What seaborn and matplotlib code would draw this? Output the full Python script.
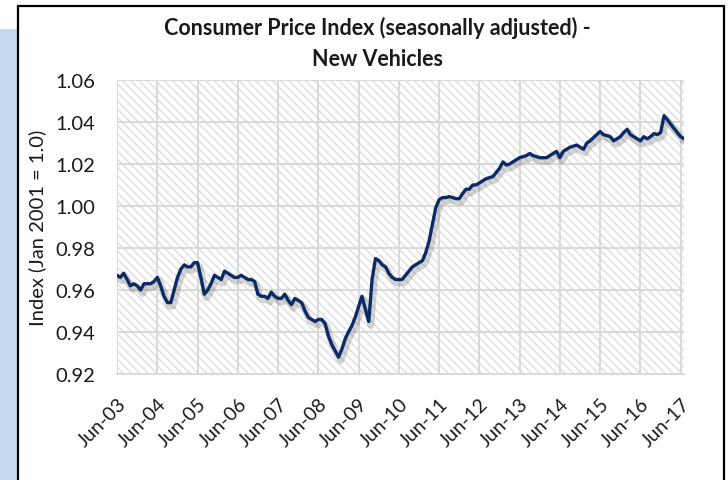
import numpy as np
import pandas as pd
import seaborn as sns
import matplotlib.pyplot as plt
import matplotlib.dates as mdates
import matplotlib.patheffects as pe
from matplotlib.patches import Rectangle

# Monthly CPI new vehicles, Jun-2003 .. Jul-2017 (index Jan 2001 = 1.0)
months = pd.date_range('2003-06-01', '2017-07-01', freq='MS')
cpi_new_vehicles = [
    0.967, 0.966, 0.968, 0.965, 0.962, 0.963, 0.962, 0.960, 0.963, 0.963, 0.963, 0.964,
    0.966, 0.962, 0.957, 0.954, 0.954, 0.960, 0.966, 0.970, 0.972, 0.971, 0.971, 0.973,
    0.973, 0.966, 0.958, 0.960, 0.963, 0.967, 0.966, 0.965, 0.969, 0.968, 0.967, 0.966,
    0.966, 0.967, 0.966, 0.965, 0.965, 0.964, 0.958, 0.957, 0.957, 0.956, 0.959, 0.957,
    0.956, 0.956, 0.958, 0.955, 0.953, 0.956, 0.955, 0.954, 0.950, 0.947, 0.946, 0.945,
    0.946, 0.946, 0.944, 0.938, 0.934, 0.931, 0.928, 0.932, 0.937, 0.940, 0.943, 0.947,
    0.952, 0.957, 0.951, 0.945, 0.965, 0.975, 0.974, 0.972, 0.971, 0.968, 0.966, 0.965,
    0.965, 0.965, 0.967, 0.969, 0.971, 0.972, 0.973, 0.974, 0.978, 0.983, 0.991, 0.999,
    1.003, 1.004, 1.004, 1.0045, 1.004, 1.0035, 1.0035, 1.006, 1.008, 1.008, 1.010, 1.010,
    1.011, 1.012, 1.013, 1.0135, 1.014, 1.016, 1.018, 1.021, 1.0195, 1.020, 1.021, 1.022,
    1.023, 1.0235, 1.024, 1.025, 1.024, 1.0235, 1.023, 1.023, 1.023, 1.024, 1.025, 1.026,
    1.023, 1.026, 1.027, 1.028, 1.0285, 1.029, 1.028, 1.027, 1.030, 1.031, 1.0325, 1.034,
    1.0355, 1.034, 1.0335, 1.033, 1.031, 1.032, 1.033, 1.035, 1.0365, 1.034, 1.033, 1.032,
    1.031, 1.033, 1.032, 1.033, 1.0345, 1.034, 1.035, 1.043, 1.041, 1.039, 1.037, 1.035,
    1.033, 1.032,
]
y_ticks = [0.92, 0.94, 0.96, 0.98, 1.00, 1.02, 1.04, 1.06]
x_ticks = pd.date_range('2003-06-01', '2017-06-01', freq='12MS')

df = pd.DataFrame({'month': months, 'cpi': cpi_new_vehicles})

sns.set_style('white')
plt.rcParams['font.family'] = ['Lato', 'DejaVu Sans']
plt.rcParams['hatch.color'] = '#dedede'
plt.rcParams['hatch.linewidth'] = 1.0

fig = plt.figure(figsize=(7.28, 4.81), dpi=100)

# blue side band and black frame of the original slide
fig.patches.append(Rectangle((0, 0), 18 / 728, 1 - 30 / 481, transform=fig.transFigure,
                             facecolor='#c5d7ea', edgecolor='none', zorder=0))
fig.patches.append(Rectangle((18 / 728, -0.05), 706 / 728, 1.05 - 7 / 481, transform=fig.transFigure,
                             facecolor='white', edgecolor='black', linewidth=1.6, zorder=1))

ax = fig.add_axes([117 / 728, 1 - 375 / 481, 567 / 728, 294 / 481])
ax.set_zorder(2)
ax.patch.set_facecolor('white')
ax.patch.set_hatch('\\\\\\\\')
ax.patch.set_edgecolor('#dedede')
ax.patch.set_linewidth(0)

sns.lineplot(data=df, x='month', y='cpi', ax=ax, color='#0c2a66', linewidth=2.4,
             path_effects=[pe.SimpleLineShadow(offset=(1.5, -2.5), shadow_color='#555555',
                                               alpha=0.25, linewidth=5),
                           pe.Normal()])

ax.set_xlim(pd.Timestamp('2003-06-01'), pd.Timestamp('2017-07-01'))
ax.set_ylim(0.92, 1.06)
ax.set_yticks(y_ticks)
ax.set_yticklabels([f'{v:.2f}' for v in y_ticks])
ax.set_xticks(x_ticks)
ax.xaxis.set_major_formatter(mdates.DateFormatter('%b-%y'))

ax.grid(True, color='#d9d9d9', linewidth=1.4)
ax.set_axisbelow(True)
for side in ['top', 'right', 'left']:
    ax.spines[side].set_visible(False)
ax.spines['bottom'].set_color('#d9d9d9')
ax.spines['bottom'].set_linewidth(1.4)

ax.tick_params(axis='y', length=0, pad=16, labelsize=14.5, labelcolor='#1a1a1a')
ax.tick_params(axis='x', length=6, width=1.4, color='#d9d9d9', pad=9,
               labelsize=14, labelcolor='#1a1a1a')
for lab in ax.get_xticklabels():
    lab.set_rotation(45)
    lab.set_ha('right')
    lab.set_rotation_mode('anchor')

ax.set_xlabel('')
ax.set_ylabel('Index (Jan 2001 = 1.0)', fontsize=14.5, color='#1a1a1a', labelpad=6)

fig.text(0.519, 1 - 28 / 481, 'Consumer Price Index (seasonally adjusted) -',
         ha='center', va='center', fontsize=15.5, fontweight='bold', color='#1a1a1a')
fig.text(0.519, 1 - 60 / 481, 'New Vehicles',
         ha='center', va='center', fontsize=15.5, fontweight='bold', color='#1a1a1a')

fig.savefig('out.png', dpi=100)
